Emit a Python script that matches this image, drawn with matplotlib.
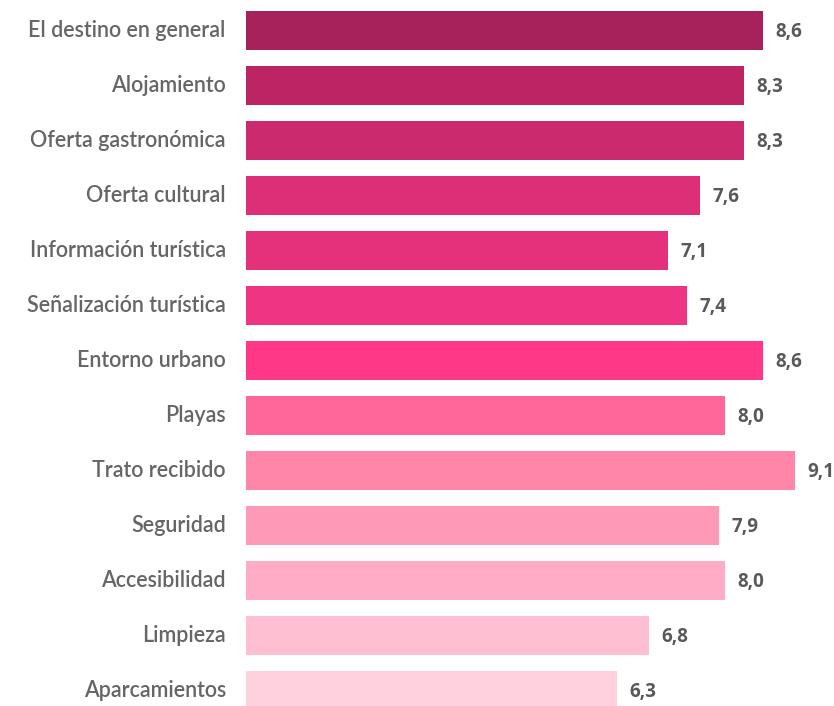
import matplotlib
matplotlib.use("Agg")
import matplotlib.pyplot as plt

categories = ["El destino en general", "Alojamiento", "Oferta gastronómica",
              "Oferta cultural", "Información turística", "Señalización turística",
              "Entorno urbano", "Playas", "Trato recibido", "Seguridad",
              "Accesibilidad", "Limpieza", "Aparcamientos"]
values = [8.6, 8.3, 8.3, 7.6, 7.1, 7.4, 8.6, 8.0, 9.1, 7.9, 8.0, 6.8, 6.3]
colors = ["#A7215A", "#BD2463", "#CC2A6E", "#DC2F78", "#E5307C", "#EF3483",
          "#FF3787", "#FF6699", "#FF85A9", "#FF99B8", "#FFADC6", "#FFBFD2", "#FFD0DD"]

W, H = 834, 706
fig = plt.figure(figsize=(W / 100, H / 100), dpi=100)
ax = fig.add_axes([246 / W, 0, 1 - 246 / W, 1])

slope = 63.7
x0 = 215.4
xmin = (246 - x0) / slope
xmax = (W - x0) / slope

ypos = list(range(len(categories)))
ax.barh(ypos, values, height=0.71, left=0, color=colors)
ax.set_xlim(xmin, xmax)
ax.set_ylim((H - 30.5) / 55, -30.5 / 55)
ax.axis("off")

for i, (c, v) in enumerate(zip(categories, values)):
    ax.annotate(f"{v:.1f}".replace(".", ","), xy=(v, i + 0.03), xytext=(9, 0),
                textcoords="offset points", va="center", ha="left",
                fontsize=13.5, fontweight="bold", color="#595959", family="Open Sans")
    ax.annotate(c, xy=(xmin, i), xytext=(-14.5, 0), textcoords="offset points",
                va="center", ha="right", fontsize=15.5, fontweight="semibold",
                color="#666666", family="Lato", annotation_clip=False)

fig.savefig("out.png", dpi=100)
